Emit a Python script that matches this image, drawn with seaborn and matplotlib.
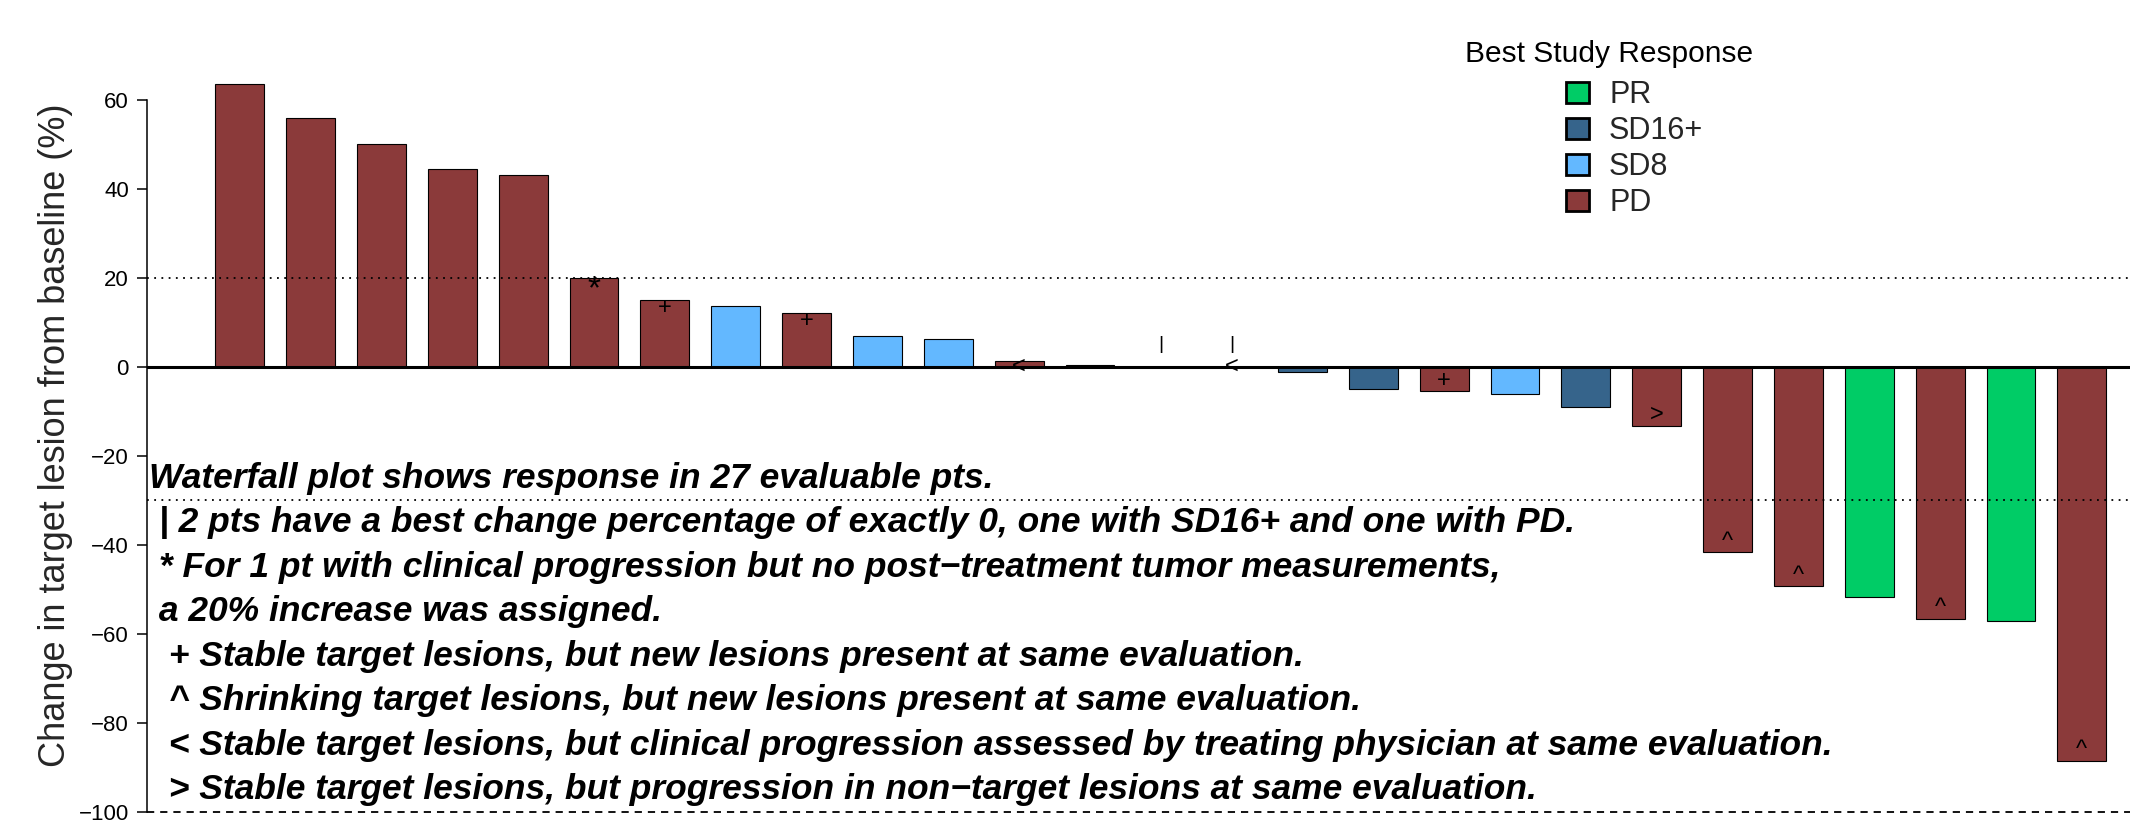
import matplotlib
matplotlib.use("Agg")
import matplotlib.pyplot as plt
import seaborn as sns
import pandas as pd

# ---------------- data ----------------
patients = [str(i) for i in range(1, 28)]
change = [63.6, 56.0, 50.0, 44.4, 43.0, 20.0, 15.0, 13.6, 12.0, 6.9, 6.3, 1.4, 0.4,
          0.0, 0.0, -1.1, -4.9, -5.5, -6.2, -9.0, -13.2, -41.6, -49.3, -51.8, -56.6,
          -57.2, -88.5]
response = ["PD", "PD", "PD", "PD", "PD", "PD", "PD", "SD8", "PD", "SD8", "SD8", "PD",
            "PD", "SD16+", "PD", "SD16+", "SD16+", "PD", "SD8", "SD16+", "PD", "PD",
            "PD", "PR", "PD", "PR", "PD"]
markers = ["", "", "", "", "", "*", "+", "", "+", "", "", "<", "", "|", "|<", "", "",
           "+", "", "", ">", "^", "^", "", "^", "", "^"]
resp_order = ["PR", "SD16+", "SD8", "PD"]
resp_colors = ["#00CC66", "#36648B", "#63B8FF", "#8B3A3A"]
yticks = [-100, -80, -60, -40, -20, 0, 20, 40, 60]
notes = [
    "Waterfall plot shows response in 27 evaluable pts.",
    " | 2 pts have a best change percentage of exactly 0, one with SD16+ and one with PD.",
    " * For 1 pt with clinical progression but no post\u2212treatment tumor measurements,",
    " a 20% increase was assigned.",
    "  + Stable target lesions, but new lesions present at same evaluation.",
    "  ^ Shrinking target lesions, but new lesions present at same evaluation.",
    "  < Stable target lesions, but clinical progression assessed by treating physician at same evaluation.",
    "  > Stable target lesions, but progression in non\u2212target lesions at same evaluation.",
]
note_y = [-25, -35, -45, -55, -65, -75, -85, -95]

df = pd.DataFrame({"patient": patients, "change": change, "response": response})

sns.set_style("white")
plt.rcParams["font.family"] = ["Liberation Sans", "DejaVu Sans"]

W, H = 2130, 823
fig = plt.figure(figsize=(W / 100, H / 100), dpi=100)
ax = fig.add_axes([147 / W, 0, 1 - 147 / W, 1])

sns.barplot(data=df, x="patient", y="change", hue="response", hue_order=resp_order,
            palette=dict(zip(resp_order, resp_colors)), order=patients, dodge=False,
            width=0.69, edgecolor="black", linewidth=0.8, saturation=1, ax=ax, legend=True)

handles, labels = ax.get_legend_handles_labels()
if ax.get_legend() is not None:
    ax.get_legend().remove()

ax.set_xlim(-1.31, 26.68)
ax.set_ylim(-102.5, 82.4)

# reference lines
ax.axhline(0, color="black", lw=2.2, zorder=3)
ax.axhline(20, color="black", lw=1.3, ls=(0, (1, 3)), zorder=1)
ax.axhline(-30, color="black", lw=1.3, ls=(0, (1, 3)), zorder=1)
ax.axhline(-100, color="black", lw=1.3, ls=(0, (4, 3.3)), zorder=1)

# axes styling
for s in ["top", "right", "bottom"]:
    ax.spines[s].set_visible(False)
ax.spines["left"].set_bounds(-100, 60)
ax.spines["left"].set_color("black")
ax.spines["left"].set_linewidth(1.1)
ax.set_yticks(yticks)
ax.set_yticklabels([str(t).replace("-", "\u2212") for t in yticks])
ax.tick_params(axis="y", labelsize=16, length=7, width=1.1, pad=6, left=True, colors="black")
ax.set_xticks([])
ax.set_xlabel("")
ax.set_ylabel("Change in target lesion from baseline (%)", fontsize=26)
ax.yaxis.set_label_coords((73 - 147) / (W - 147), 1 - 435 / H)

# bar markers
for i, (v, m) in enumerate(zip(change, markers)):
    for ch in m:
        if ch == "|":
            ax.text(i, 5, "|", ha="center", va="center", fontsize=14, color="black")
        elif ch == "<":
            ax.text(i, 0, "<", ha="center", va="center", fontsize=17, color="black")
        else:
            y = v - 1.8 if v > 0 else v + 2.3
            fs = 24 if ch == "*" else 17
            ax.text(i, y - (1.0 if ch == "*" else 0), ch, ha="center", va="center",
                    fontsize=fs, color="black")

# notes
for txt, y in zip(notes, note_y):
    ax.text(-1.28, y, txt, ha="left", va="center", fontsize=25.5,
            fontweight="bold", fontstyle="italic", color="black")

# legend
leg = fig.legend(handles, labels, loc="upper left",
                 bbox_to_anchor=(1566 / W, 1 - 80 / H), bbox_transform=fig.transFigure,
                 frameon=False, fontsize=22, handlelength=0.75, handleheight=0.66,
                 handletextpad=0.66, labelspacing=0.2, borderpad=0, borderaxespad=0)
for h in leg.legend_handles:
    h.set_edgecolor("black")
    h.set_linewidth(2)
fig.text(1609 / W, 1 - 54 / H, "Best Study Response", ha="center", va="center",
         fontsize=21.5, color="black")

fig.savefig("out.png", dpi=100)
